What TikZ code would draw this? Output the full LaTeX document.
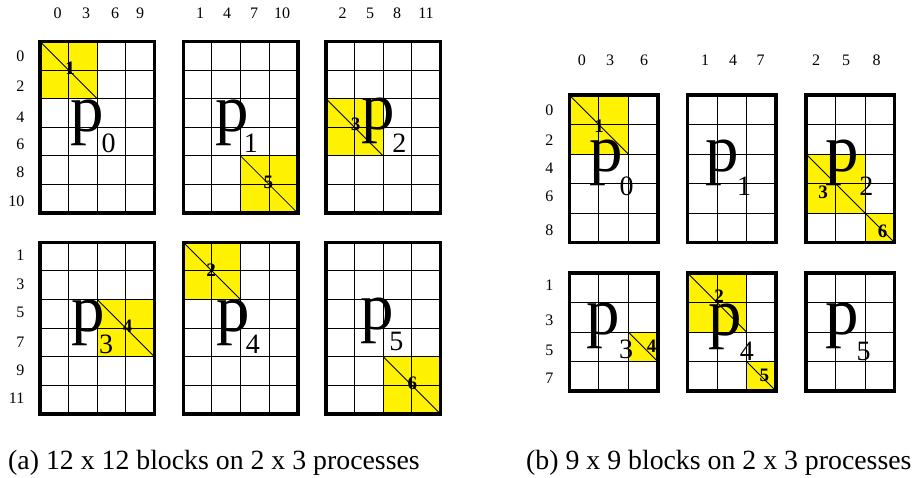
\documentclass[tikz,border=0pt]{standalone}
\usepackage{fontspec}
\setmainfont{Liberation Serif}
\tikzset{
  frame/.style={line width=3.6pt},
  gridline/.style={line width=0.9pt},
  diag/.style={line width=0.8pt},
  idx/.style={font=\fontsize{16}{16}\selectfont, inner sep=0pt},
  bigp/.style={font=\fontsize{67}{67}\selectfont, inner sep=0pt, anchor=base west},
  subp/.style={font=\fontsize{28}{28}\selectfont, inner sep=0pt, anchor=base west},
  dnum/.style={font=\bfseries\fontsize{19}{19}\selectfont, inner sep=0pt},
  capt/.style={font=\fontsize{27.8}{27.8}\selectfont, inner sep=0pt, anchor=base west},
}
% x0, y0, cols, rows, cell
\newcommand{\procgrid}[5]{%
  \pgfmathtruncatemacro{\pgcm}{#3-1}%
  \pgfmathtruncatemacro{\pgrm}{#4-1}%
  \foreach \k in {1,...,\pgcm} {\draw[gridline] ({#1+\k*#5},{#2}) -- ++(0,{#4*#5});}
  \foreach \k in {1,...,\pgrm} {\draw[gridline] ({#1},{#2+\k*#5}) -- ++({#3*#5},0);}
  \draw[frame] (#1,#2) rectangle ++({#3*#5},{#4*#5});
}
% x0, y0, cell, col, row, w, h
\newcommand{\hlfill}[7]{\fill[yellow] ({#1+#4*#3},{#2+#5*#3}) rectangle ++({#6*#3},{#7*#3});}
\newcommand{\hldiag}[7]{\draw[diag] ({#1+#4*#3},{#2+#5*#3}) -- ++({#6*#3},{#7*#3});}
\begin{document}
\begin{tikzpicture}[x=1pt,y=-1pt]
\useasboundingbox[fill=white] (0,0) rectangle (915,477);
% ---------- (a) highlights ----------
\hlfill{40}{41.5}{28.6}{0}{0}{2}{2}
\hlfill{183.3}{41.5}{28.6}{2}{4}{2}{2}
\hlfill{326}{41.5}{28.6}{0}{2}{2}{2}
\hlfill{40}{242.3}{28.6}{2}{2}{2}{2}
\hlfill{183.3}{242.3}{28.6}{0}{0}{2}{2}
\hlfill{326}{242.3}{28.6}{2}{4}{2}{2}
% ---------- (b) highlights ----------
\hlfill{569.3}{95}{29.5}{0}{0}{2}{2}
\hlfill{806}{95}{29.5}{0}{2}{2}{2}
\hlfill{806}{95}{29.5}{2}{4}{1}{1}
\hlfill{569.3}{273}{29.5}{2}{2}{1}{1}
\hlfill{687.5}{273}{29.5}{0}{0}{2}{2}
\hlfill{687.5}{273}{29.5}{2}{3}{1}{1}
% ---------- grids ----------
\procgrid{40}{41.5}{4}{6}{28.6}
\procgrid{183.3}{41.5}{4}{6}{28.6}
\procgrid{326}{41.5}{4}{6}{28.6}
\procgrid{40}{242.3}{4}{6}{28.6}
\procgrid{183.3}{242.3}{4}{6}{28.6}
\procgrid{326}{242.3}{4}{6}{28.6}
\procgrid{569.3}{95}{3}{5}{29.5}
\procgrid{687.5}{95}{3}{5}{29.5}
\procgrid{806}{95}{3}{5}{29.5}
\procgrid{569.3}{273}{3}{4}{29.5}
\procgrid{687.5}{273}{3}{4}{29.5}
\procgrid{806}{273}{3}{4}{29.5}
% ---------- diagonals ----------
\hldiag{40}{41.5}{28.6}{0}{0}{2}{2}
\hldiag{183.3}{41.5}{28.6}{2}{4}{2}{2}
\hldiag{326}{41.5}{28.6}{0}{2}{2}{2}
\hldiag{40}{242.3}{28.6}{2}{2}{2}{2}
\hldiag{183.3}{242.3}{28.6}{0}{0}{2}{2}
\hldiag{326}{242.3}{28.6}{2}{4}{2}{2}
\hldiag{569.3}{95}{29.5}{0}{0}{2}{2}
\hldiag{806}{95}{29.5}{0}{2}{2}{2}
\hldiag{806}{95}{29.5}{2}{4}{1}{1}
\hldiag{569.3}{273}{29.5}{2}{2}{1}{1}
\hldiag{687.5}{273}{29.5}{0}{0}{2}{2}
\hldiag{687.5}{273}{29.5}{2}{3}{1}{1}
% ---------- diagonal block numbers ----------
\node[dnum] (da1) at (70,68) {1};
\node[dnum] (da5) at (268.3,182) {5};
\node[dnum] (da3) at (355.7,124.5) {3};
\node[dnum] (da4) at (127.5,326) {4};
\node[dnum] (da2) at (211,270) {2};
\node[dnum] (da6) at (412.3,383.5) {6};
\node[dnum] (db1) at (599,126.7) {1};
\node[dnum] (db3) at (823,192) {3};
\node[dnum] (db6) at (882.7,231) {6};
\node[dnum] (db4) at (651.7,346.7) {4};
\node[dnum] (db2) at (719,296.7) {2};
\node[dnum] (db5) at (764.3,375) {5};
% ---------- big p labels (a) ----------
\node[bigp] (pa0) at (70,131) {p};   \node[subp] (sa0) at (101.3,152) {0};
\node[bigp] (pa1) at (215,131) {p};  \node[subp] (sa1) at (243.6,152) {1};
\node[bigp] (pa2) at (361.7,129) {p};\node[subp] (sa2) at (392.2,152) {2};
\node[bigp] (pa3) at (71,331) {p};   \node[subp] (sa3) at (98.8,353) {3};
\node[bigp] (pa4) at (216,331) {p};  \node[subp] (sa4) at (245.7,353) {4};
\node[bigp] (pa5) at (360,329) {p};  \node[subp] (sa5) at (389.1,350) {5};
% ---------- big p labels (b) ----------
\node[bigp] (pb0) at (589,171) {p};  \node[subp] (sb0) at (619.3,195) {0};
\node[bigp] (pb1) at (705,171) {p};  \node[subp] (sb1) at (737,195) {1};
\node[bigp] (pb2) at (825,171) {p};  \node[subp] (sb2) at (859.2,195) {2};
\node[bigp] (pb3) at (586.7,334) {p};\node[subp] (sb3) at (618.8,358) {3};
\node[bigp] (pb4) at (708.3,335) {p};\node[subp] (sb4) at (739.7,360) {4};
\node[bigp] (pb5) at (825,334) {p};  \node[subp] (sb5) at (856.4,360) {5};
% ---------- column indices (a) ----------
\node[idx,anchor=base] (ca00) at (57.5,18.3) {0};
\node[idx,anchor=base] (ca03) at (86,18.3) {3};
\node[idx,anchor=base] (ca06) at (115,18.3) {6};
\node[idx,anchor=base] (ca09) at (140,18.3) {9};
\node[idx,anchor=base] (ca01) at (200,18.3) {1};
\node[idx,anchor=base] (ca04) at (227,18.3) {4};
\node[idx,anchor=base] (ca07) at (254,18.3) {7};
\node[idx,anchor=base] (ca10) at (282,18.3) {10};
\node[idx,anchor=base] (ca02) at (342.7,18.3) {2};
\node[idx,anchor=base] (ca05) at (370,18.3) {5};
\node[idx,anchor=base] (ca08) at (397,18.3) {8};
\node[idx,anchor=base] (ca11) at (426,18.3) {11};
% ---------- row indices (a) ----------
\node[idx,anchor=east] (ra0) at (24.5,56.7) {0};
\node[idx,anchor=east] (ra2) at (24.5,86.5) {2};
\node[idx,anchor=east] (ra4) at (24.5,117) {4};
\node[idx,anchor=east] (ra6) at (24.5,144) {6};
\node[idx,anchor=east] (ra8) at (24.5,172.5) {8};
\node[idx,anchor=east] (ra10) at (24.5,201) {10};
\node[idx,anchor=east] (ra1) at (24.5,255) {1};
\node[idx,anchor=east] (ra3) at (24.5,284) {3};
\node[idx,anchor=east] (ra5) at (24.5,312.7) {5};
\node[idx,anchor=east] (ra7) at (24.5,342) {7};
\node[idx,anchor=east] (ra9) at (24.5,370.7) {9};
\node[idx,anchor=east] (ra11) at (24.5,398.7) {11};
% ---------- column indices (b) ----------
\node[idx,anchor=base] (cb0) at (581.8,65) {0};
\node[idx,anchor=base] (cb3) at (610,65) {3};
\node[idx,anchor=base] (cb6) at (644,65) {6};
\node[idx,anchor=base] (cb1) at (705,65) {1};
\node[idx,anchor=base] (cb4) at (733,65) {4};
\node[idx,anchor=base] (cb7) at (760.7,65) {7};
\node[idx,anchor=base] (cb2) at (816,65) {2};
\node[idx,anchor=base] (cb5) at (846,65) {5};
\node[idx,anchor=base] (cb8) at (876.7,65) {8};
% ---------- row indices (b) ----------
\node[idx,anchor=east] (rb0) at (553.5,110.5) {0};
\node[idx,anchor=east] (rb2) at (553.5,140) {2};
\node[idx,anchor=east] (rb4) at (553.5,168.7) {4};
\node[idx,anchor=east] (rb6) at (553.5,196) {6};
\node[idx,anchor=east] (rb8) at (553.5,230) {8};
\node[idx,anchor=east] (rb1) at (553.5,285.3) {1};
\node[idx,anchor=east] (rb3) at (553.5,320) {3};
\node[idx,anchor=east] (rb5) at (553.5,350.5) {5};
\node[idx,anchor=east] (rb7) at (553.5,378) {7};
% ---------- captions ----------
\node[capt] (capa) at (8,469) {(a) 12 x 12 blocks on 2 x 3 processes};
\node[capt] (capb) at (526,469) {(b) 9 x 9 blocks on 2 x 3 processes};
\end{tikzpicture}
\end{document}
